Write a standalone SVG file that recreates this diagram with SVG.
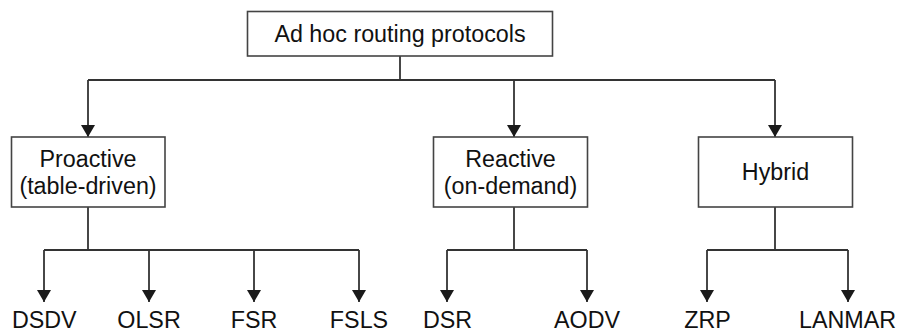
<svg xmlns="http://www.w3.org/2000/svg" width="898" height="331" viewBox="0 0 898 331">
<style>
  .box { fill: #fff; stroke: #444; stroke-width: 1.6; }
  .lbl { font-family: "Liberation Sans", Arial, sans-serif; font-size: 23.3px; fill: #111; text-anchor: middle; }
  .con { fill: none; stroke: #333; stroke-width: 1.8; }
</style>
<defs>
  <marker id="arr" markerUnits="userSpaceOnUse" markerWidth="15" markerHeight="15" refX="12" refY="7" orient="auto">
    <path d="M0,0 L12,7 L0,14 z" fill="#1a1a1a"/>
  </marker>
</defs>
<rect width="898" height="331" fill="#fff"/>
<g id="connectors">
  <path class="con" d="M400,56 V80 M88,80 H775 M447,250 H587 M707,250 H848 M44,250 H359 M88,207 V250 M514,207 V250 M775,207 V250"/>
  <path class="con" marker-end="url(#arr)" d="M88,80 V137"/>
  <path class="con" marker-end="url(#arr)" d="M514,80 V137"/>
  <path class="con" marker-end="url(#arr)" d="M775,80 V137"/>
  <path class="con" marker-end="url(#arr)" d="M44,250 V302"/>
  <path class="con" marker-end="url(#arr)" d="M149,250 V302"/>
  <path class="con" marker-end="url(#arr)" d="M254,250 V302"/>
  <path class="con" marker-end="url(#arr)" d="M359,250 V302"/>
  <path class="con" marker-end="url(#arr)" d="M447,250 V302"/>
  <path class="con" marker-end="url(#arr)" d="M587,250 V302"/>
  <path class="con" marker-end="url(#arr)" d="M707,250 V302"/>
  <path class="con" marker-end="url(#arr)" d="M848,250 V302"/>
</g>
<g id="root">
  <rect class="box" x="247.5" y="11.5" width="305" height="44.5"/>
  <text class="lbl" x="400" y="42.3">Ad hoc routing protocols</text>
</g>
<g id="proactive">
  <rect class="box" x="11.5" y="137" width="153.5" height="70"/>
  <text class="lbl" x="88" y="166.7">Proactive</text>
  <text class="lbl" x="88" y="194">(table-driven)</text>
</g>
<g id="reactive">
  <rect class="box" x="433.5" y="137" width="154" height="70"/>
  <text class="lbl" x="510.5" y="166.7">Reactive</text>
  <text class="lbl" x="510.5" y="194">(on-demand)</text>
</g>
<g id="hybrid">
  <rect class="box" x="698.5" y="137" width="154" height="70"/>
  <text class="lbl" x="775.5" y="180">Hybrid</text>
</g>
<g id="dsdv"><text class="lbl" x="44.3" y="327.5">DSDV</text></g>
<g id="olsr"><text class="lbl" x="149" y="327.5">OLSR</text></g>
<g id="fsr"><text class="lbl" x="254" y="327.5">FSR</text></g>
<g id="fsls"><text class="lbl" x="359" y="327.5">FSLS</text></g>
<g id="dsr"><text class="lbl" x="447.6" y="327.5">DSR</text></g>
<g id="aodv"><text class="lbl" x="587" y="327.5">AODV</text></g>
<g id="zrp"><text class="lbl" x="707.5" y="327.5">ZRP</text></g>
<g id="lanmar"><text class="lbl" x="847.5" y="327.5">LANMAR</text></g>
</svg>
